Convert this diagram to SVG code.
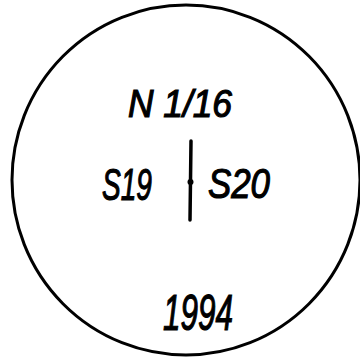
<svg xmlns="http://www.w3.org/2000/svg" width="360" height="361" viewBox="0 0 360 361">
<style>
.t{font-family:"Liberation Sans",Arial,sans-serif;fill:#000;stroke:#000;stroke-width:1.2;font-style:italic;text-anchor:middle;lengthAdjust:spacingAndGlyphs}
</style>
<rect width="360" height="361" fill="#fff"/>
<g id="circle">
<ellipse cx="186" cy="180" rx="174" ry="175" fill="none" stroke="#000" stroke-width="3"/>
</g>
<g id="label-top"><text class="t" x="180" y="117" font-size="38" textLength="104" lengthAdjust="spacingAndGlyphs">N 1/16</text></g>
<g id="label-left"><text class="t" x="127" y="200" font-size="44" textLength="50" lengthAdjust="spacingAndGlyphs">S19</text></g>
<g id="label-right"><text class="t" x="239" y="198" font-size="42" textLength="62" lengthAdjust="spacingAndGlyphs">S20</text></g>
<g id="label-year"><text class="t" x="198" y="330" font-size="50" textLength="70" lengthAdjust="spacingAndGlyphs">1994</text></g>
<g id="connectors">
<line x1="191" y1="141" x2="190" y2="220" stroke="#000" stroke-width="3.5" stroke-linecap="round"/>
<circle cx="190.5" cy="182" r="3" fill="#000"/>
</g>
</svg>
